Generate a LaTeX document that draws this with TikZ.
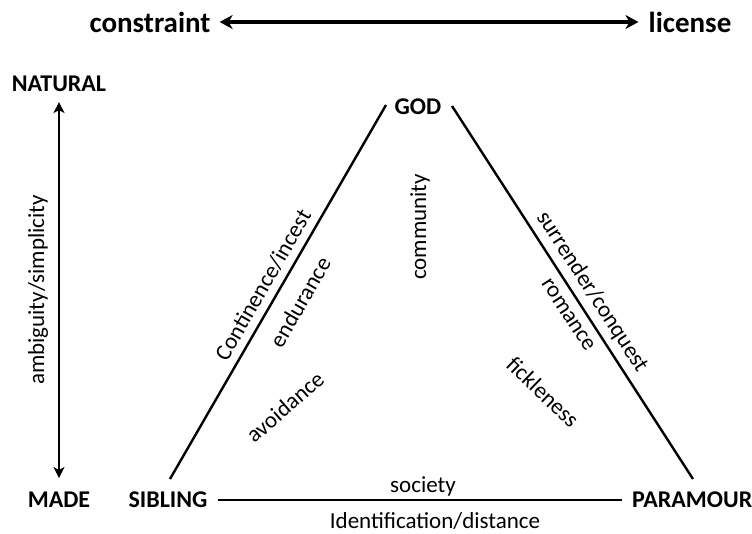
\documentclass[tikz,border=0pt]{standalone}
\usepackage{fontspec}
\setmainfont{Carlito}
\usetikzlibrary{arrows.meta}
\begin{document}
\begin{tikzpicture}[x=1pt,y=-1pt,
  lab/.style={font=\fontsize{23}{27}\selectfont, inner sep=0pt},
  blab/.style={font=\fontsize{24}{28}\selectfont\bfseries, inner sep=0pt},
  tlab/.style={font=\fontsize{29}{33}\selectfont\bfseries, inner sep=0pt},
  side/.style={line width=2.4pt},
  toparrow/.style={line width=3.4pt, {Stealth[length=13pt,width=14pt,inset=4pt]}-{Stealth[length=13pt,width=14pt,inset=4pt]}},
  vertarrow/.style={line width=2.2pt, {Stealth[length=11pt,width=11pt,inset=3pt]}-{Stealth[length=11pt,width=11pt,inset=3pt]}}]
\useasboundingbox (0,0) rectangle (752,533);

% top axis
\node[tlab] (constraint) at (150,22) {constraint};
\node[tlab] (license) at (690,22) {license};
\draw[toparrow, shorten <=9pt, shorten >=10pt] (constraint.east) -- (license.west);

% vertical axis
\node[blab] (natural) at (59,84) {NATURAL};
\node[blab] (made) at (59,500) {MADE};
\draw[vertarrow, shorten <=10pt, shorten >=14pt] (natural) -- (made);
\node[lab, rotate=90] (ambig) at (38,290) {ambiguity/simplicity};

% triangle vertices
\node[blab] (god) at (418,107) {GOD};
\node[blab] (sibling) at (168,500) {SIBLING};
\node[blab, anchor=west] (paramour) at (632,500) {PARAMOUR};

\coordinate (l1) at (170,479);
\coordinate (l2) at (386,105);
\coordinate (r1) at (452,106);
\coordinate (r2) at (693,479);

\draw[side] (l1) -- (l2);
\draw[side] (r1) -- (r2);
\draw[side, shorten <=10pt, shorten >=10pt] (sibling.east) -- (paramour.west);

% labels
\node[lab, rotate=60] (contin) at (263,285) {Continence/incest};
\node[lab, rotate=60] (endur) at (300,302) {endurance};
\node[lab, rotate=41] (avoid) at (285,407) {avoidance};
\node[lab, rotate=-57] (surr) at (592,292) {surrender/conquest};
\node[lab, rotate=-57] (rom) at (568,315) {romance};
\node[lab, rotate=-44] (fick) at (543,392) {fickleness};
\node[lab, rotate=90] (comm) at (420,227) {community};
\node[lab] (soc) at (423,486) {society};
\node[lab] (ident) at (435,521) {Identification/distance};
\end{tikzpicture}
\end{document}
